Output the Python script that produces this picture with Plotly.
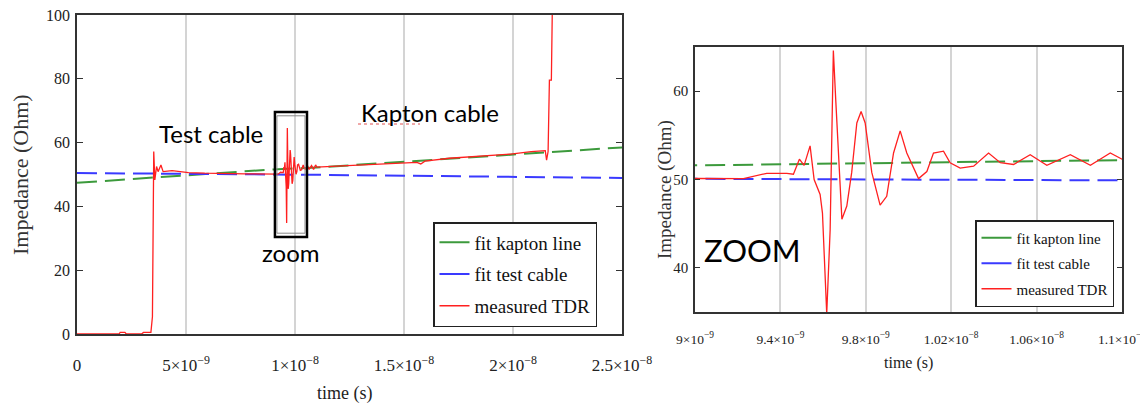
import plotly.graph_objects as go

# ---------------- data (time in ns, impedance in Ohm) ----------------
meas_t_ns = [0, 1.93, 1.98, 2.2, 2.26, 2.96, 3.05, 3.39, 3.46, 3.50, 3.52, 3.57, 3.65, 3.72,
             3.85, 3.95, 4.36, 5.11, 5.86, 7.73, 9.0, 9.227, 9.336, 9.43, 9.461, 9.489,
             9.511, 9.539, 9.558, 9.586, 9.597, 9.617, 9.633, 9.648, 9.659, 9.688, 9.711,
             9.734, 9.758, 9.778, 9.797, 9.828, 9.867, 9.898, 9.930, 9.961, 9.992, 10.047,
             10.086, 10.117, 10.164, 10.195, 10.242, 10.305, 10.375, 10.430, 10.492, 10.570,
             10.648, 10.758, 10.852, 10.945, 11.0, 12.41, 14.28, 15.59, 15.77, 15.96, 17.08,
             18.95, 19.89, 20.83, 21.48, 21.54, 21.61, 21.67, 21.76, 21.80, 21.83]
meas_z = [0, 0, 0.5, 0.5, 0, 0, 0.5, 0.5, 5.4, 46.2, 57.2, 48.3, 52.5, 50.9,
          53.0, 50.9, 51.2, 50.6, 50.4, 50.2, 50.1, 50.1, 50.7, 50.7, 50.6, 52.3,
          51.6, 53.8, 50.0, 48.3, 46.2, 34.8, 44.3, 64.6, 59.1, 45.5, 47.0,
          50.8, 56.4, 57.7, 56.4, 50.8, 47.1, 48.1, 53.0, 55.5, 53.0, 50.1,
          50.9, 53.0, 53.2, 51.9, 51.3, 51.5, 53.0, 51.9, 51.7, 52.8,
          51.6, 52.8, 51.6, 53.0, 52.3, 52.8, 53.5, 53.8, 53.3, 54.2, 55.1,
          56.1, 56.4, 57.2, 57.5, 54.5, 57.2, 79.6, 79.6, 100.0, 115.0]

kapton_fit_t_ns = [0, 9.0, 11.0, 25.0]
kapton_fit_z = [47.4, 51.6, 52.2, 58.5]

test_fit_t_ns = [0, 9.0, 11.0, 25.0]
test_fit_z = [50.45, 50.08, 49.9, 48.9]

left_xticks_ns = [0, 5, 10, 15, 20, 25]
left_xticklabels = ["0", "5×10<sup>−9</sup>", "1×10<sup>−8</sup>", "1.5×10<sup>−8</sup>",
                    "2×10<sup>−8</sup>", "2.5×10<sup>−8</sup>"]
right_xticks_ns = [9.0, 9.4, 9.8, 10.2, 10.6, 11.0]
right_xticklabels = ["9×10<sup>−9</sup>", "9.4×10<sup>−9</sup>", "9.8×10<sup>−9</sup>",
                     "1.02×10<sup>−8</sup>", "1.06×10<sup>−8</sup>", "1.1×10<sup>−8</sup>"]
left_yticks = [0, 20, 40, 60, 80, 100]
right_yticks = [40, 50, 60]

names = ["fit kapton line", "fit test cable", "measured TDR"]
# ---------------------------------------------------------------------

ns = 1e-9
def sec(v):
    return [a * ns for a in v]

# page body has an 8px margin: figure drawn from (8, 8) of the window
W, H, OFF = 1140, 397, 8
def px(x):
    return (x - OFF) / W
def py(y):
    return 1 - (y - OFF) / H

GREEN = "#3c9a3c"
BLUE = "#3a3aff"
RED = "#ff2020"
SERIF = "Liberation Serif"
SANS = "Lato"

fig = go.Figure()
colors = [GREEN, BLUE, RED]
for (xa, ya, lg) in [("x", "y", "legend"), ("x2", "y2", "legend2")]:
    fig.add_trace(go.Scatter(x=sec(kapton_fit_t_ns), y=kapton_fit_z, mode="lines",
                             line=dict(color=GREEN, width=2, dash="20px,8px"),
                             xaxis=xa, yaxis=ya, showlegend=False, hoverinfo="skip"))
    fig.add_trace(go.Scatter(x=sec(test_fit_t_ns), y=test_fit_z, mode="lines",
                             line=dict(color=BLUE, width=2, dash="20px,8px"),
                             xaxis=xa, yaxis=ya, showlegend=False, hoverinfo="skip"))
    fig.add_trace(go.Scatter(x=sec(meas_t_ns), y=meas_z, mode="lines",
                             line=dict(color=RED, width=1.3),
                             xaxis=xa, yaxis=ya, showlegend=False))
    # legend entries (solid short strokes as in the reference)
    for i, nm in enumerate(names):
        fig.add_trace(go.Scatter(x=[None], y=[None], mode="lines", name=nm,
                                 line=dict(color=colors[i], width=2 if i < 2 else 1.5),
                                 xaxis=xa, yaxis=ya, legend=lg, legendgroup=lg + str(i)))

axis_common = dict(showline=True, linecolor="#333333", linewidth=1.5, mirror="ticks",
                   zeroline=False, automargin=False, ticklabeloverflow="allow")

fig.update_layout(
    width=W, height=H,
    margin=dict(l=0, r=0, t=0, b=0, pad=0, autoexpand=False),
    paper_bgcolor="white", plot_bgcolor="white",
    xaxis=dict(domain=[px(77), px(622)], range=[0, 25 * ns], anchor="y",
               tickvals=sec(left_xticks_ns), ticktext=left_xticklabels,
               showgrid=True, gridcolor="#d4d4d4", gridwidth=1.5, ticks="",
               ticklabelstandoff=15, tickfont=dict(family=SERIF, size=17, color="#222222"),
               **axis_common),
    yaxis=dict(domain=[py(334), py(15)], range=[0, 100], anchor="x",
               tickvals=left_yticks, showgrid=False, ticks="inside", ticklen=6,
               tickcolor="#333333", ticklabelstandoff=2,
               tickfont=dict(family=SERIF, size=16, color="#222222"), **axis_common),
    xaxis2=dict(domain=[px(695), px(1122)], range=[9.0 * ns, 11.0 * ns], anchor="y2",
                tickvals=sec(right_xticks_ns), ticktext=right_xticklabels,
                showgrid=True, gridcolor="#d4d4d4", gridwidth=1.5, ticks="",
                ticklabelstandoff=14, tickfont=dict(family=SERIF, size=13.5, color="#222222"),
                **axis_common),
    yaxis2=dict(domain=[py(312), py(47)], range=[35, 65], anchor="x2",
                tickvals=right_yticks, showgrid=False, ticks="inside", ticklen=5,
                tickcolor="#333333", ticklabelstandoff=2,
                tickfont=dict(family=SERIF, size=15, color="#222222"), **axis_common),
    legend=dict(x=px(433), y=py(222), xanchor="left", yanchor="top",
                bgcolor="white", bordercolor="#222222", borderwidth=1.5,
                font=dict(family=SERIF, size=19, color="#111111"),
                traceorder="grouped", tracegroupgap=4, itemwidth=30),
    legend2=dict(x=px(975), y=py(220), xanchor="left", yanchor="top",
                 bgcolor="white", bordercolor="#222222", borderwidth=1.5,
                 font=dict(family=SERIF, size=15, color="#111111"),
                 traceorder="grouped", tracegroupgap=3, itemwidth=30),
    showlegend=True,
)

annotations = [
    # axis titles
    dict(text="Impedance (Ohm)", x=px(20), y=py(175), xref="paper", yref="paper",
         xanchor="center", yanchor="middle",
         textangle=-90, showarrow=False, font=dict(family=SERIF, size=22, color="#333333")),
    dict(text="time (s)", x=px(345), y=py(393), xref="paper", yref="paper",
         xanchor="center", yanchor="middle",
         showarrow=False, font=dict(family=SERIF, size=18, color="#222222")),
    dict(text="Impedance (Ohm)", x=px(665), y=py(190), xref="paper", yref="paper",
         xanchor="center", yanchor="middle",
         textangle=-90, showarrow=False, font=dict(family=SERIF, size=19, color="#333333")),
    dict(text="time (s)", x=px(908), y=py(363), xref="paper", yref="paper",
         xanchor="center", yanchor="middle",
         showarrow=False, font=dict(family=SERIF, size=16, color="#222222")),
    # text labels
    dict(text="Test cable", x=6.15 * ns, y=63.0, xref="x", yref="y", showarrow=False,
         xanchor="center", yanchor="middle",
         font=dict(family=SANS, size=24, color="black")),
    dict(text="Kapton cable", x=16.2 * ns, y=69.3, xref="x", yref="y", showarrow=False,
         xanchor="center", yanchor="middle",
         font=dict(family=SANS, size=24, color="black")),
    dict(text="zoom", x=9.82 * ns, y=25.4, xref="x", yref="y", showarrow=False,
         xanchor="center", yanchor="middle",
         font=dict(family=SANS, size=24, color="black")),
    dict(text="ZOOM", x=9.267 * ns, y=42.0, xref="x2", yref="y2", showarrow=False,
         xanchor="center", yanchor="middle",
         font=dict(family=SANS, size=31, color="black")),
]
fig.update_layout(annotations=annotations)

shapes = [
    dict(type="rect", xref="x", yref="y", x0=9.08 * ns, x1=10.55 * ns, y0=30.4, y1=69.6,
         line=dict(color="black", width=2.5)),
    dict(type="rect", xref="x", yref="y", x0=9.17 * ns, x1=10.46 * ns, y0=31.6, y1=68.4,
         line=dict(color="#888888", width=1)),
    dict(type="line", xref="paper", yref="paper", x0=px(358), x1=px(420),
         y0=py(124), y1=py(124),
         line=dict(color="#e05050", width=1, dash="dot")),
]
fig.update_layout(shapes=shapes)

fig.write_html("out.html")
